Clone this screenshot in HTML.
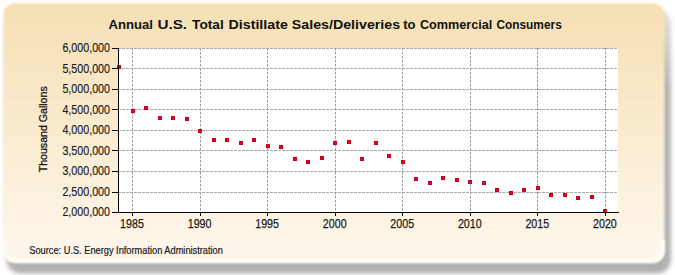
<!DOCTYPE html>
<html><head><meta charset="utf-8"><style>
html,body{margin:0;padding:0;background:#fff;}
body{width:675px;height:275px;overflow:hidden;position:relative;}
svg{position:absolute;left:0;top:0;}
text{font-family:"Liberation Sans",sans-serif;}
</style></head><body>
<svg width="675" height="275" viewBox="0 0 675 275">
<defs>
<clipPath id="hc"><rect x="0" y="248" width="675" height="27"/></clipPath>
<clipPath id="pc"><rect x="100" y="40" width="530" height="172"/></clipPath>
<linearGradient id="sg" x1="0" y1="0" x2="0" y2="1"><stop offset="0" stop-color="#e4e4e4"/><stop offset="0.3" stop-color="#b4b4b4"/><stop offset="1" stop-color="#b0b0b0"/></linearGradient>
<linearGradient id="bg" x1="0" y1="0" x2="0" y2="1">
<stop offset="0" stop-color="#F6DFB3"/>
<stop offset="1" stop-color="#FFF8EE"/>
</linearGradient>
<filter id="sh" x="-5%" y="-5%" width="110%" height="115%"><feGaussianBlur stdDeviation="2.1"/></filter>
<filter id="bb" filterUnits="userSpaceOnUse" x="0" y="0" width="675" height="275"><feGaussianBlur stdDeviation="1"/></filter>
<filter id="hl" filterUnits="userSpaceOnUse" x="0" y="0" width="675" height="275"><feGaussianBlur stdDeviation="1.2"/></filter>
</defs>
<rect x="6.5" y="9" width="664.5" height="264.5" rx="14" ry="14" fill="url(#sg)" filter="url(#sh)"/>
<g filter="url(#bb)">
<rect x="3.3" y="3.3" width="661.2" height="259.2" rx="12" ry="12" fill="url(#bg)"/>
</g>
<path d="M663 240V250.5A10.5 10.5 0 0 1 652.5 261H15.3A10.5 10.5 0 0 1 4.8 250.5V240" fill="none" stroke="#fffdf8" stroke-width="3.5" filter="url(#hl)"/>

<rect x="118" y="48" width="500" height="164" fill="#fff"/>
<path d="M118 48.5H618 M118 68.5H618 M118 89.5H618 M118 109.5H618 M118 130.5H618 M118 150.5H618 M118 171.5H618 M118 192.5H618" stroke="#aaaaaa" stroke-width="1" stroke-dasharray="3,1" fill="none"/>
<path d="M132.5 48V212 M200.5 48V212 M267.5 48V212 M335.5 48V212 M402.5 48V212 M470.5 48V212 M537.5 48V212 M605.5 48V212" stroke="#9a9a9a" stroke-width="1" stroke-dasharray="2.5,1.5" fill="none"/>
<g clip-path="url(#pc)"><rect x="117" y="65" width="4" height="4" fill="#C4001C"/><rect x="118" y="66" width="2" height="2" fill="#F00022"/><rect x="131" y="109" width="4" height="4" fill="#C4001C"/><rect x="132" y="110" width="2" height="2" fill="#F00022"/><rect x="144" y="106" width="4" height="4" fill="#C4001C"/><rect x="145" y="107" width="2" height="2" fill="#F00022"/><rect x="158" y="116" width="4" height="4" fill="#C4001C"/><rect x="159" y="117" width="2" height="2" fill="#F00022"/><rect x="171" y="116" width="4" height="4" fill="#C4001C"/><rect x="172" y="117" width="2" height="2" fill="#F00022"/><rect x="185" y="117" width="4" height="4" fill="#C4001C"/><rect x="186" y="118" width="2" height="2" fill="#F00022"/><rect x="198" y="129" width="4" height="4" fill="#C4001C"/><rect x="199" y="130" width="2" height="2" fill="#F00022"/><rect x="212" y="138" width="4" height="4" fill="#C4001C"/><rect x="213" y="139" width="2" height="2" fill="#F00022"/><rect x="225" y="138" width="4" height="4" fill="#C4001C"/><rect x="226" y="139" width="2" height="2" fill="#F00022"/><rect x="239" y="141" width="4" height="4" fill="#C4001C"/><rect x="240" y="142" width="2" height="2" fill="#F00022"/><rect x="252" y="138" width="4" height="4" fill="#C4001C"/><rect x="253" y="139" width="2" height="2" fill="#F00022"/><rect x="266" y="144" width="4" height="4" fill="#C4001C"/><rect x="267" y="145" width="2" height="2" fill="#F00022"/><rect x="279" y="145" width="4" height="4" fill="#C4001C"/><rect x="280" y="146" width="2" height="2" fill="#F00022"/><rect x="293" y="157" width="4" height="4" fill="#C4001C"/><rect x="294" y="158" width="2" height="2" fill="#F00022"/><rect x="306" y="160" width="4" height="4" fill="#C4001C"/><rect x="307" y="161" width="2" height="2" fill="#F00022"/><rect x="320" y="156" width="4" height="4" fill="#C4001C"/><rect x="321" y="157" width="2" height="2" fill="#F00022"/><rect x="333" y="141" width="4" height="4" fill="#C4001C"/><rect x="334" y="142" width="2" height="2" fill="#F00022"/><rect x="347" y="140" width="4" height="4" fill="#C4001C"/><rect x="348" y="141" width="2" height="2" fill="#F00022"/><rect x="360" y="157" width="4" height="4" fill="#C4001C"/><rect x="361" y="158" width="2" height="2" fill="#F00022"/><rect x="374" y="141" width="4" height="4" fill="#C4001C"/><rect x="375" y="142" width="2" height="2" fill="#F00022"/><rect x="387" y="154" width="4" height="4" fill="#C4001C"/><rect x="388" y="155" width="2" height="2" fill="#F00022"/><rect x="401" y="160" width="4" height="4" fill="#C4001C"/><rect x="402" y="161" width="2" height="2" fill="#F00022"/><rect x="414" y="177" width="4" height="4" fill="#C4001C"/><rect x="415" y="178" width="2" height="2" fill="#F00022"/><rect x="428" y="181" width="4" height="4" fill="#C4001C"/><rect x="429" y="182" width="2" height="2" fill="#F00022"/><rect x="441" y="176" width="4" height="4" fill="#C4001C"/><rect x="442" y="177" width="2" height="2" fill="#F00022"/><rect x="455" y="178" width="4" height="4" fill="#C4001C"/><rect x="456" y="179" width="2" height="2" fill="#F00022"/><rect x="468" y="180" width="4" height="4" fill="#C4001C"/><rect x="469" y="181" width="2" height="2" fill="#F00022"/><rect x="482" y="181" width="4" height="4" fill="#C4001C"/><rect x="483" y="182" width="2" height="2" fill="#F00022"/><rect x="495" y="188" width="4" height="4" fill="#C4001C"/><rect x="496" y="189" width="2" height="2" fill="#F00022"/><rect x="509" y="191" width="4" height="4" fill="#C4001C"/><rect x="510" y="192" width="2" height="2" fill="#F00022"/><rect x="522" y="188" width="4" height="4" fill="#C4001C"/><rect x="523" y="189" width="2" height="2" fill="#F00022"/><rect x="536" y="186" width="4" height="4" fill="#C4001C"/><rect x="537" y="187" width="2" height="2" fill="#F00022"/><rect x="549" y="193" width="4" height="4" fill="#C4001C"/><rect x="550" y="194" width="2" height="2" fill="#F00022"/><rect x="563" y="193" width="4" height="4" fill="#C4001C"/><rect x="564" y="194" width="2" height="2" fill="#F00022"/><rect x="576" y="196" width="4" height="4" fill="#C4001C"/><rect x="577" y="197" width="2" height="2" fill="#F00022"/><rect x="590" y="195" width="4" height="4" fill="#C4001C"/><rect x="591" y="196" width="2" height="2" fill="#F00022"/><rect x="603" y="209" width="4" height="4" fill="#C4001C"/><rect x="604" y="210" width="2" height="2" fill="#F00022"/></g>
<path d="M118.5 48V212.5 M112 212.5H619 M112 48.5H118 M112 68.5H118 M112 89.5H118 M112 109.5H118 M112 130.5H118 M112 150.5H118 M112 171.5H118 M112 192.5H118 M112 212.5H118 M132.5 212V216 M200.5 212V216 M267.5 212V216 M335.5 212V216 M402.5 212V216 M470.5 212V216 M537.5 212V216 M605.5 212V216" stroke="#000" stroke-width="1" fill="none"/>
<text x="110" y="52.0" font-size="12.5" text-anchor="end" textLength="47.6" lengthAdjust="spacingAndGlyphs" fill="#1a1a1a" stroke="#1a1a1a" stroke-width="0.15">6,000,000</text>
<text x="110" y="72.5" font-size="12.5" text-anchor="end" textLength="47.6" lengthAdjust="spacingAndGlyphs" fill="#1a1a1a" stroke="#1a1a1a" stroke-width="0.15">5,500,000</text>
<text x="110" y="93.0" font-size="12.5" text-anchor="end" textLength="47.6" lengthAdjust="spacingAndGlyphs" fill="#1a1a1a" stroke="#1a1a1a" stroke-width="0.15">5,000,000</text>
<text x="110" y="113.5" font-size="12.5" text-anchor="end" textLength="47.6" lengthAdjust="spacingAndGlyphs" fill="#1a1a1a" stroke="#1a1a1a" stroke-width="0.15">4,500,000</text>
<text x="110" y="134.0" font-size="12.5" text-anchor="end" textLength="47.6" lengthAdjust="spacingAndGlyphs" fill="#1a1a1a" stroke="#1a1a1a" stroke-width="0.15">4,000,000</text>
<text x="110" y="154.5" font-size="12.5" text-anchor="end" textLength="47.6" lengthAdjust="spacingAndGlyphs" fill="#1a1a1a" stroke="#1a1a1a" stroke-width="0.15">3,500,000</text>
<text x="110" y="175.0" font-size="12.5" text-anchor="end" textLength="47.6" lengthAdjust="spacingAndGlyphs" fill="#1a1a1a" stroke="#1a1a1a" stroke-width="0.15">3,000,000</text>
<text x="110" y="195.5" font-size="12.5" text-anchor="end" textLength="47.6" lengthAdjust="spacingAndGlyphs" fill="#1a1a1a" stroke="#1a1a1a" stroke-width="0.15">2,500,000</text>
<text x="110" y="216.0" font-size="12.5" text-anchor="end" textLength="47.6" lengthAdjust="spacingAndGlyphs" fill="#1a1a1a" stroke="#1a1a1a" stroke-width="0.15">2,000,000</text>
<text x="132.0" y="227.7" font-size="12.8" text-anchor="middle" textLength="23.8" lengthAdjust="spacingAndGlyphs" fill="#1a1a1a" stroke="#1a1a1a" stroke-width="0.25">1985</text>
<text x="199.6" y="227.7" font-size="12.8" text-anchor="middle" textLength="23.8" lengthAdjust="spacingAndGlyphs" fill="#1a1a1a" stroke="#1a1a1a" stroke-width="0.25">1990</text>
<text x="267.1" y="227.7" font-size="12.8" text-anchor="middle" textLength="23.8" lengthAdjust="spacingAndGlyphs" fill="#1a1a1a" stroke="#1a1a1a" stroke-width="0.25">1995</text>
<text x="334.7" y="227.7" font-size="12.8" text-anchor="middle" textLength="23.8" lengthAdjust="spacingAndGlyphs" fill="#1a1a1a" stroke="#1a1a1a" stroke-width="0.25">2000</text>
<text x="402.2" y="227.7" font-size="12.8" text-anchor="middle" textLength="23.8" lengthAdjust="spacingAndGlyphs" fill="#1a1a1a" stroke="#1a1a1a" stroke-width="0.25">2005</text>
<text x="469.8" y="227.7" font-size="12.8" text-anchor="middle" textLength="23.8" lengthAdjust="spacingAndGlyphs" fill="#1a1a1a" stroke="#1a1a1a" stroke-width="0.25">2010</text>
<text x="537.3" y="227.7" font-size="12.8" text-anchor="middle" textLength="23.8" lengthAdjust="spacingAndGlyphs" fill="#1a1a1a" stroke="#1a1a1a" stroke-width="0.25">2015</text>
<text x="604.9" y="227.7" font-size="12.8" text-anchor="middle" textLength="23.8" lengthAdjust="spacingAndGlyphs" fill="#1a1a1a" stroke="#1a1a1a" stroke-width="0.25">2020</text>
<text x="108.6" y="29" font-size="13.5" font-weight="bold" textLength="44.4" lengthAdjust="spacingAndGlyphs" fill="#111">Annual</text>
<text x="157.4" y="29" font-size="13.5" font-weight="bold" textLength="29.7" lengthAdjust="spacingAndGlyphs" fill="#111">U.S.</text>
<text x="192.1" y="29" font-size="13.5" font-weight="bold" textLength="31.6" lengthAdjust="spacingAndGlyphs" fill="#111">Total</text>
<text x="228.6" y="29" font-size="13.5" font-weight="bold" textLength="59.2" lengthAdjust="spacingAndGlyphs" fill="#111">Distillate</text>
<text x="291.8" y="29" font-size="13.5" font-weight="bold" textLength="108.3" lengthAdjust="spacingAndGlyphs" fill="#111">Sales/Deliveries</text>
<text x="403.2" y="29" font-size="13.5" font-weight="bold" textLength="12.3" lengthAdjust="spacingAndGlyphs" fill="#111">to</text>
<text x="419.9" y="29" font-size="13.5" font-weight="bold" textLength="72.5" lengthAdjust="spacingAndGlyphs" fill="#111">Commercial</text>
<text x="496.4" y="29" font-size="13.5" font-weight="bold" textLength="65.4" lengthAdjust="spacingAndGlyphs" fill="#111">Consumers</text>
<text transform="translate(47.2,129.3) rotate(-90)" font-size="11" text-anchor="middle" textLength="86" lengthAdjust="spacingAndGlyphs" fill="#1a1a1a" stroke="#1a1a1a" stroke-width="0.3">Thousand Gallons</text>
<text x="29.3" y="253.6" font-size="10" textLength="193.6" lengthAdjust="spacingAndGlyphs" fill="#1a1a1a" stroke="#1a1a1a" stroke-width="0.2">Source: U.S. Energy Information Administration</text>
</svg></body></html>
